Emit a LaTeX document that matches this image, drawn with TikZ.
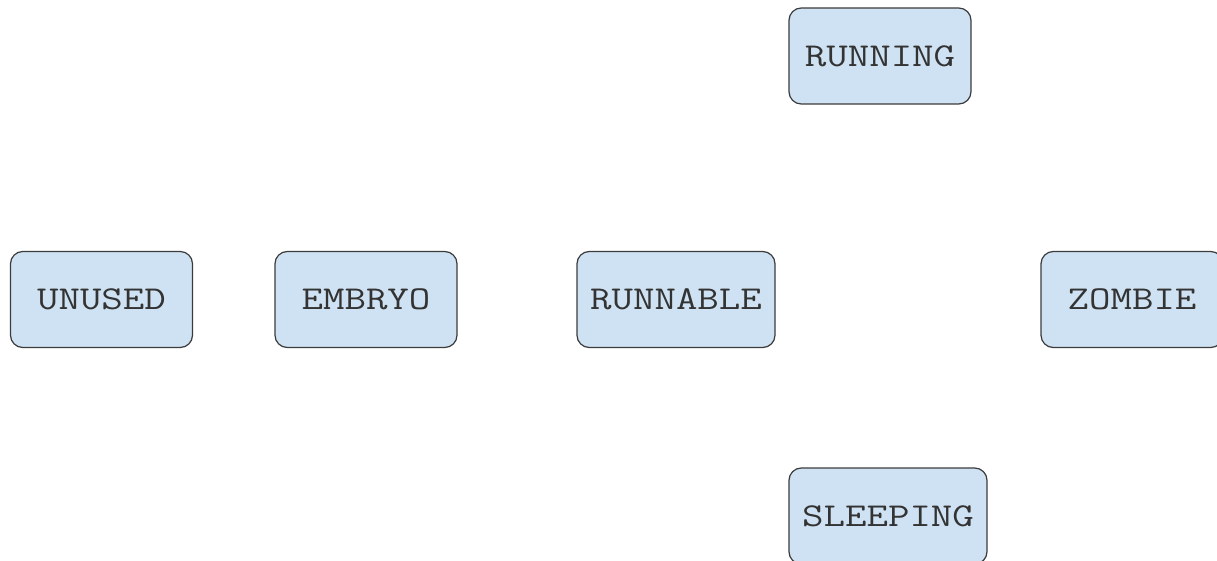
\documentclass[tikz,border=0pt]{standalone}
\usepackage{fontspec}
\newfontfamily\statefont{Latin Modern Mono}[FakeStretch=1.25]
\usepackage{xcolor}
\usetikzlibrary{positioning}
\definecolor{stateblue}{HTML}{CFE2F3}
\definecolor{stateline}{HTML}{3C3C3C}
\tikzset{
  state/.style={draw=stateline, fill=stateblue, line width=0.7pt, rounded corners=7pt,
    minimum height=96*0.02cm, inner sep=0pt, font=\statefont\fontsize{19}{21}\selectfont, text=black!80},
  narrow/.style={state, minimum width=182*0.02cm},
  wide/.style={state, minimum width=198*0.02cm}
}
\begin{document}
\begin{tikzpicture}[x=0.02cm, y=-0.02cm]
        % page frame, parts of the last boxes fall outside
        \useasboundingbox (0,0) rectangle (1217,561);
        \clip (0,0) rectangle (1217,561);

        % process states
        \node[narrow] (running) at (880,56) {RUNNING};
        \node[narrow] (unused) at (101.5,299.5) {UNUSED\hspace{9pt}};
        \node[narrow] (embryo) at (366,299.5) {EMBRYO};
        \node[wide] (runnable) at (676,299.5) {RUNNABLE};
        \node[narrow] (zombie) at (1132,299.5) {ZOMBIE};
        \node[wide] (sleeping) at (888,516) {SLEEPING};
    \end{tikzpicture}
\end{document}
